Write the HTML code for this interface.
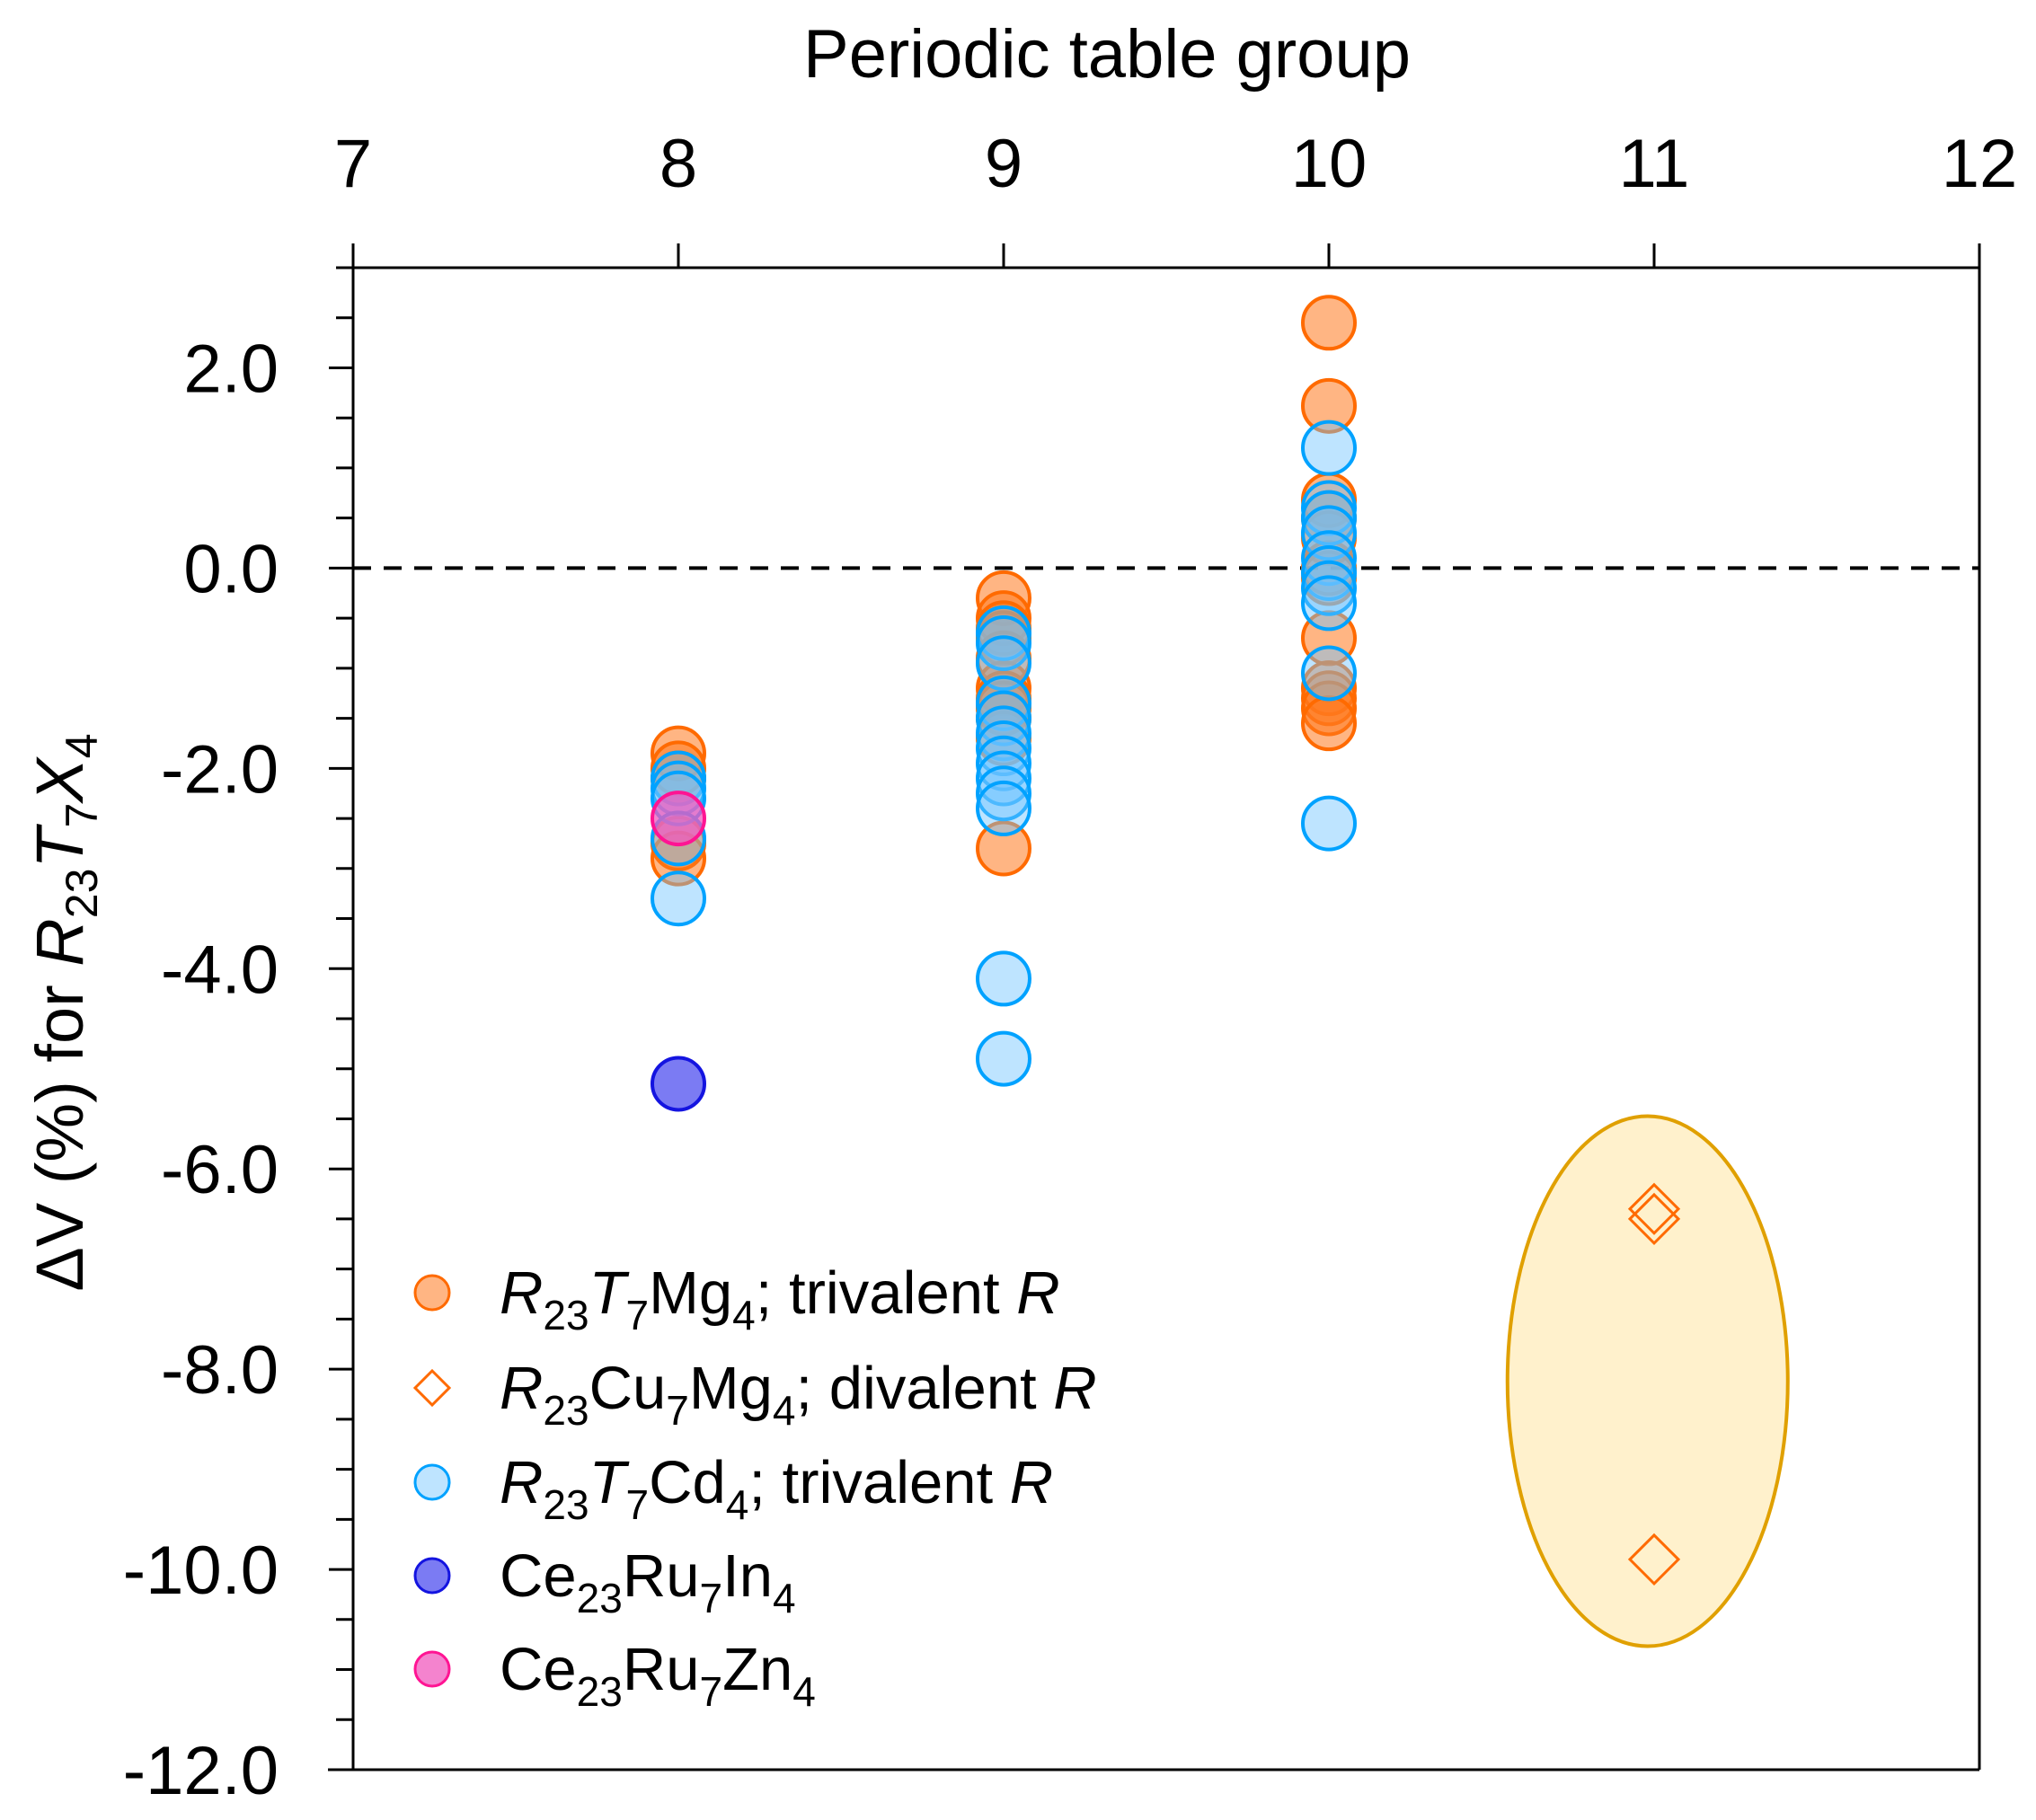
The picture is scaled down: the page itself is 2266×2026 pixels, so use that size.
<!DOCTYPE html>
<html><head><meta charset="utf-8"><style>
html,body{margin:0;padding:0;background:#fff;}
svg{display:block;font-family:"Liberation Sans",sans-serif;}
</style></head><body>
<svg id="chart" width="2266" height="2026" viewBox="0 0 2266 2026" xmlns="http://www.w3.org/2000/svg">
<rect width="2266" height="2026" fill="#fff"/>
<g id="highlight"></g>
<g id="axes"></g>
<g id="marks"></g>
<g id="legend"></g>
<text x="1232" y="86" font-size="76" text-anchor="middle" fill="#000">Periodic table group</text>
<text transform="translate(92,1127) rotate(-90)" font-size="74" text-anchor="middle" fill="#000">ΔV (%) for <tspan font-style="italic">R</tspan><tspan font-size="50" dy="16">23</tspan><tspan font-style="italic" dy="-16">T</tspan><tspan font-size="50" dy="16">7</tspan><tspan font-style="italic" dy="-16">X</tspan><tspan font-size="50" dy="16">4</tspan></text>
</svg>
<script>
const xTicks = [7, 8, 9, 10, 11, 12];
const yTicks = [2, 0, -2, -4, -6, -8, -10, -12];
const yTickLabels = ["2.0", "0.0", "-2.0", "-4.0", "-6.0", "-8.0", "-10.0", "-12.0"];
const mgGroup8 = [-1.85, -2.0, -2.1, -2.75, -2.9];
const mgGroup9 = [-0.3, -0.5, -0.6, -0.7, -0.9, -1.2, -1.3, -1.4, -1.5, -1.7, -2.8];
const mgGroup10 = [2.45, 1.62, 0.68, 0.5, 0.3, 0.0, -0.1, -0.7, -1.2, -1.3, -1.4, -1.55];
const cdGroup8 = [-2.1, -2.2, -2.3, -2.7, -3.3];
const cdGroup9 = [-0.65, -0.75, -0.95, -1.35, -1.5, -1.65, -1.8, -1.95, -2.1, -2.25, -2.4, -4.1, -4.9];
const cdGroup10 = [1.2, 0.6, 0.5, 0.35, 0.1, -0.05, -0.2, -0.35, -1.05, -2.55];
const inValues = [-5.15];
const znValues = [-2.5];
const cuDivalent = [-6.4, -6.5, -9.9];

const NS = "http://www.w3.org/2000/svg";
const X0 = 393, X1 = 2203, Y0 = 298, Y1 = 1970;
const xMin = 7, xMax = 12, yMin = -12, yMax = 3;
function sx(v){ return X0 + (v - xMin) / (xMax - xMin) * (X1 - X0); }
function sy(v){ return Y1 - (v - yMin) / (yMax - yMin) * (Y1 - Y0); }
function mk(tag, attrs, parent){
  const e = document.createElementNS(NS, tag);
  for (const k in attrs) e.setAttribute(k, attrs[k]);
  parent.appendChild(e); return e;
}
const axes = document.getElementById('axes');
const marks = document.getElementById('marks');
const hl = document.getElementById('highlight');
const legend = document.getElementById('legend');

const ell = mk('ellipse', {cx: sx(10.98), cy: sy(-8.12), rx: 156, ry: 295, fill: '#fff1cc', stroke: '#e0a000', 'stroke-width': 4}, hl);



const frame = mk('path', {d: `M${X0-19},${Y0} H${X1} V${Y1} M${X0},${Y0} V${Y1} M${X0-28},${Y1} H${X1}`, fill: 'none', stroke: '#000', 'stroke-width': 3}, axes);



xTicks.forEach(t => {
  const x = sx(t);
  const l = mk('line', {x1: x, x2: x, y1: Y0, y2: Y0 - 27, stroke: '#000', 'stroke-width': 3}, axes);
  
  
  const tx = mk('text', {x: x, y: 208, 'font-size': 76, 'text-anchor': 'middle', fill: '#000'}, axes);
  tx.textContent = t;
  
  
});
for (let v = yMin; v <= yMax + 1e-9; v += 0.5) {
  const major = Math.abs(v - Math.round(v / 2) * 2) < 1e-9;
  const l = mk('line', {x1: X0 - (major ? 27 : 19), x2: X0, y1: sy(v), y2: sy(v), stroke: '#000', 'stroke-width': 3}, axes);
  
  
}
yTicks.forEach((t, i) => {
  const tx = mk('text', {x: 310, y: sy(t) + 27, 'font-size': 76, 'text-anchor': 'end', fill: '#000'}, axes);
  tx.textContent = yTickLabels[i];
  
  
});
const zl = mk('line', {x1: X0, x2: X1, y1: sy(0), y2: sy(0), stroke: '#000', 'stroke-width': 4, 'stroke-dasharray': '20 14'}, axes);



const styles = {
  mg: {fill: 'rgba(255,120,30,0.55)', stroke: '#ff6a00'},
  cd: {fill: 'rgba(110,195,255,0.45)', stroke: '#00a2ff'},
  inn: {fill: 'rgba(90,90,240,0.8)', stroke: '#1414e0'},
  zn: {fill: 'rgba(240,90,190,0.75)', stroke: '#ff1493'}
};
function circles(group, vals, st, name){
  vals.forEach(v => {
    const c = mk('circle', {cx: sx(group), cy: sy(v), r: 29, fill: st.fill, stroke: st.stroke, 'stroke-width': 4}, marks);
    
    
  });
}
circles(8, mgGroup8, styles.mg, 'point-mg-trivalent');
circles(9, mgGroup9, styles.mg, 'point-mg-trivalent');
circles(10, mgGroup10, styles.mg, 'point-mg-trivalent');
circles(8, cdGroup8, styles.cd, 'point-cd-trivalent');
circles(9, cdGroup9, styles.cd, 'point-cd-trivalent');
circles(10, cdGroup10, styles.cd, 'point-cd-trivalent');
circles(8, inValues, styles.inn, 'point-ce-ru-in');
circles(8, znValues, styles.zn, 'point-ce-ru-zn');
cuDivalent.forEach(v => {
  const x = sx(11), y = sy(v), h = 27;
  const d = mk('path', {d: `M${x},${y-h} L${x+h},${y} L${x},${y+h} L${x-h},${y} Z`, fill: 'none', stroke: '#ff6a00', 'stroke-width': 3}, marks);
  
  
});

const legRows = [
  {y: 1439, kind: 'circle', st: styles.mg, html: '<tspan font-style="italic">R</tspan><tspan font-size="46" dy="18">23</tspan><tspan font-style="italic" dy="-18">T</tspan><tspan font-size="46" dy="18">7</tspan><tspan dy="-18">Mg</tspan><tspan font-size="46" dy="18">4</tspan><tspan dy="-18">; trivalent </tspan><tspan font-style="italic">R</tspan>', name: 'legend-entry-mg-trivalent'},
  {y: 1545, kind: 'diamond', html: '<tspan font-style="italic">R</tspan><tspan font-size="46" dy="18">23</tspan><tspan dy="-18">Cu</tspan><tspan font-size="46" dy="18">7</tspan><tspan dy="-18">Mg</tspan><tspan font-size="46" dy="18">4</tspan><tspan dy="-18">; divalent </tspan><tspan font-style="italic">R</tspan>', name: 'legend-entry-cu-divalent'},
  {y: 1650, kind: 'circle', st: styles.cd, html: '<tspan font-style="italic">R</tspan><tspan font-size="46" dy="18">23</tspan><tspan font-style="italic" dy="-18">T</tspan><tspan font-size="46" dy="18">7</tspan><tspan dy="-18">Cd</tspan><tspan font-size="46" dy="18">4</tspan><tspan dy="-18">; trivalent </tspan><tspan font-style="italic">R</tspan>', name: 'legend-entry-cd-trivalent'},
  {y: 1754, kind: 'circle', st: styles.inn, html: 'Ce<tspan font-size="46" dy="18">23</tspan><tspan dy="-18">Ru</tspan><tspan font-size="46" dy="18">7</tspan><tspan dy="-18">In</tspan><tspan font-size="46" dy="18">4</tspan>', name: 'legend-entry-ce-ru-in'},
  {y: 1858, kind: 'circle', st: styles.zn, html: 'Ce<tspan font-size="46" dy="18">23</tspan><tspan dy="-18">Ru</tspan><tspan font-size="46" dy="18">7</tspan><tspan dy="-18">Zn</tspan><tspan font-size="46" dy="18">4</tspan>', name: 'legend-entry-ce-ru-zn'}
];
legRows.forEach(r => {
  const g = mk('g', {}, legend);
  
  
  if (r.kind === 'circle') {
    mk('circle', {cx: 481, cy: r.y, r: 19, fill: r.st.fill, stroke: r.st.stroke, 'stroke-width': 3}, g);
  } else {
    mk('path', {d: `M481,${r.y-19} L500,${r.y} L481,${r.y+19} L462,${r.y} Z`, fill: 'none', stroke: '#ff6a00', 'stroke-width': 3}, g);
  }
  const t = mk('text', {x: 556, y: r.y + 23, 'font-size': 67, fill: '#000'}, g);
  t.innerHTML = r.html;
});
</script>
</body></html>
